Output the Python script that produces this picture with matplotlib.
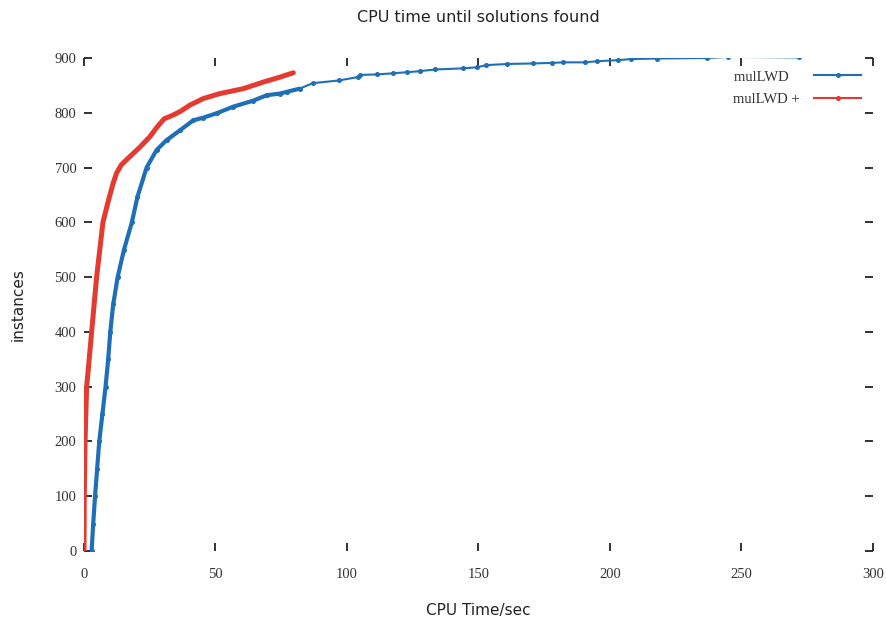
import matplotlib
matplotlib.use("Agg")
import matplotlib.pyplot as plt

# mulLWD (blue): CPU time (sec) at which N instances were solved
blue_time = [2.9, 3.5, 4.2, 5.0, 5.8, 7.0, 8.2, 9.2, 10.0, 11.1, 12.8, 15.2,
             18.2, 20.3, 23.8, 27.6, 31.4, 36.5, 41.5, 45.3, 50.4, 56.7, 64.3,
             69.5, 74.5, 77.0, 82.0, 87.0, 97.0, 104.0, 105.0, 111.4, 117.5,
             122.8, 127.8, 133.5, 144.0, 149.4, 153.0, 161.0, 170.7, 178.0,
             182.0, 190.5, 195.0, 203.0, 208.0, 218.0, 237.0, 245.0, 272.0]
blue_inst = [0, 50, 100, 150, 200, 250, 300, 350, 400, 450, 500, 550,
             600, 646, 700, 732, 750, 768, 786, 791, 799, 811, 822,
             832, 835, 838, 844, 854, 859, 865, 869, 870, 872,
             874, 876, 879, 881, 883, 887, 889, 890, 891,
             892, 892, 894, 896, 898, 899, 900, 902, 901]

# mulLWD + (red)
red_time = [0.0, 0.1, 0.4, 1.0, 1.6, 2.9, 4.8, 7.2, 9.3, 11.0, 12.4, 14.2,
            17.0, 21.0, 25.0, 27.8, 30.5, 33.5, 36.5, 40.3, 45.4, 51.7, 60.6,
            68.2, 74.5, 79.6]
red_inst = [0, 100, 200, 300, 330, 400, 500, 600, 640, 670, 690, 705,
            718, 736, 756, 774, 789, 795, 802, 814, 826, 835, 844,
            856, 865, 873]

xticks = [0, 50, 100, 150, 200, 250, 300]
yticks = [0, 100, 200, 300, 400, 500, 600, 700, 800, 900]

blue = '#1f6fb8'
red = '#e53a2f'
serif = 'Liberation Serif'

fig = plt.figure(figsize=(8.87, 6.2), dpi=100)
ax = fig.add_axes([0.0947, 0.1113, 0.8895, 0.7952])

# dense part drawn thicker, like the overlapping points in the original
n_dense = 27
ax.plot(blue_time[:n_dense], blue_inst[:n_dense], color=blue, lw=3.0,
        solid_capstyle='round')
# trailing spaces keep both legend labels left-aligned like gnuplot does
ax.plot(blue_time, blue_inst, color=blue, lw=1.5, marker='o', markersize=2.6,
        label='mulLWD   ')
ax.plot(red_time, red_inst, color=red, lw=3.6, solid_capstyle='round')
ax.plot([], [], color=red, lw=1.5, marker='o', markersize=2.6,
        label='mulLWD +')

ax.set_xlim(0, 300)
ax.set_ylim(0, 900)
ax.set_xticks(xticks)
ax.set_yticks(yticks)
for s in ax.spines.values():
    s.set_visible(False)

ax.tick_params(direction='in', length=6, width=1.3, color='#222222',
               top=True, right=True, labelsize=10.5, labelcolor='#333333')
ax.tick_params(axis='x', pad=12)
ax.tick_params(axis='y', pad=5.5)
for lbl in ax.get_xticklabels() + ax.get_yticklabels():
    lbl.set_family(serif)

ax.set_title('CPU time until solutions found', fontsize=11.5,
             color='#222222', pad=26)
ax.set_xlabel('CPU Time/sec', fontsize=11, color='#222222', labelpad=16)
ax.set_ylabel('instances', fontsize=11, color='#222222', labelpad=21)

leg = ax.legend(loc='upper right', bbox_to_anchor=(0.985, 0.975),
                frameon=False, markerfirst=False, handlelength=3.2,
                borderpad=0, borderaxespad=0, labelspacing=0.65,
                handletextpad=1.0, prop={'family': serif, 'size': 10.5})
for t in leg.get_texts():
    t.set_color('#333333')

fig.savefig('out.png', dpi=100)
